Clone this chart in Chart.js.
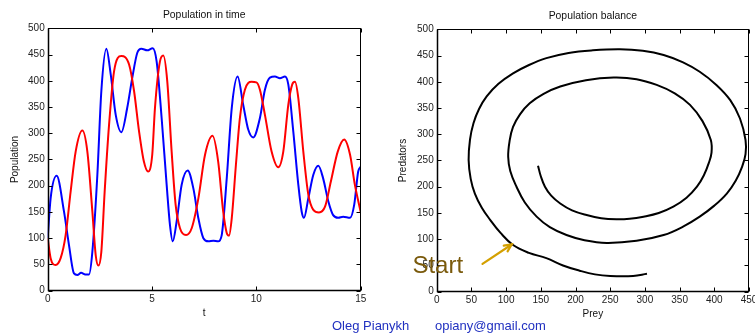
<!DOCTYPE html>
<html>
<head>
<meta charset="utf-8">
<script src="https://cdn.jsdelivr.net/npm/chart.js@4.4.1/dist/chart.umd.min.js"></script>
<style>
  html, body { margin: 0; padding: 0; background: #fff; overflow: hidden; width: 755px; height: 335px; }
  #left { position: absolute; left: 0; top: 0; width: 380px; height: 335px; }
  #right { position: absolute; left: 380px; top: 0; width: 400px; height: 335px; }
  .foot { position: absolute; top: 318px; font: 13px Arial, "Liberation Sans", sans-serif; color: #2030c0; white-space: nowrap; }
</style>
</head>
<body>
<canvas id="left" width="380" height="335"></canvas>
<canvas id="right" width="400" height="335"></canvas>
<div class="foot" style="left:332px">Oleg Pianykh</div>
<div class="foot" style="left:435px">opiany@gmail.com</div>
<script>
// ---- Data ----
const blueT = [0,0.14,0.43,0.78,1.02,1.26,1.42,1.6,1.8,1.98,2.14,2.38,2.57,2.81,3.02,3.26,3.53,3.81,4.05,4.29,4.49,4.77,5.03,5.22,5.46,5.70,5.86,5.99,6.18,6.42,6.71,6.98,7.22,7.46,7.70,7.94,8.17,8.34,8.58,8.82,9.10,9.37,9.61,9.85,10.17,10.41,10.65,10.89,11.13,11.37,11.53,11.77,12.01,12.17,12.28,12.49,12.73,12.97,13.2,13.45,13.68,13.92,14.16,14.49,14.69,14.88,15];
const blueValues = [100,176,219,151,87,33,30,34,31,31,74,221,380,461,412,335,302,348,405,453,461,458,462,437,329,202,125,94,132,202,229,195,138,100,94,95,94,106,214,348,408,354,307,292,329,383,406,408,405,408,393,303,202,151,139,176,221,238,214,170,144,139,141,139,164,227,236];
const redT = [0,0.14,0.38,0.62,0.86,1.10,1.34,1.66,1.90,2.14,2.30,2.43,2.57,2.73,2.94,3.18,3.53,3.9,4.14,4.38,4.61,4.81,5.01,5.14,5.38,5.54,5.73,5.94,6.13,6.34,6.63,6.9,7.22,7.54,7.9,8.17,8.41,8.58,8.69,8.82,9.02,9.21,9.45,9.77,10.0,10.17,10.41,10.73,11.05,11.29,11.53,11.72,11.85,12.01,12.25,12.49,12.73,13.0,13.29,13.57,13.9,14.21,14.49,14.72,15];
const redValues = [100,62,49,62,106,189,265,305,265,151,68,48,74,189,316,418,447,431,380,303,246,227,259,348,437,448,399,265,164,119,106,119,176,259,295,246,151,110,105,138,240,329,383,398,397,383,335,265,235,265,354,393,398,367,265,183,154,149,160,208,265,288,259,202,150];
const preyValues = [303,283,250,228,206,182,158,133,110,92,77,65,55,49,46,48,53,61,72,89,110,133,158,190,225,264,297,327,355,379,403,423,437,445,445,440,431,418,400,379,355,327,288,245,213,187,163,144,127,115,106,103,105,110,120,134,154,178,215,255,288,317,343,365,383,395,396,392,385,375,360,341,320,298,278,259,237,216,195,178,165,156,150,146];
const predatorValues = [34,30,30,33,40,50,64,74,89,112,137,160,187,215,251,290,321,348,372,396,416,432,445,455,460,462,459,451,437,419,394,365,330,289,262,238,212,187,164,143,124,108,97,93,98,108,123,143,170,200,230,257,287,314,338,359,377,391,403,408,405,394,378,356,325,289,265,245,222,200,179,162,150,143,139,138,140,146,155,168,183,200,220,240];
const timeTicks = [0, 5, 10, 15];
const startLabel = { text: 'Start', x: -35, y: 35 };
const startArrow = { fromX: 66, fromY: 53, toX: 108, toY: 90 };

const FONT = 'Arial, "Liberation Sans", sans-serif';

// Box + inward ticks (MATLAB style)
const boxPlugin = {
  id: 'box',
  afterDraw(chart) {
    const { ctx, chartArea: a, scales } = chart;
    ctx.save();
    ctx.strokeStyle = '#000';
    ctx.lineWidth = 1;
    const L = Math.round(a.left) + 0.5, R = Math.round(a.right) - 0.5;
    const T = Math.round(a.top) + 0.5, B = Math.round(a.bottom) - 0.5;
    ctx.strokeRect(L, T, R - L, B - T);
    ctx.lineWidth = 1.5;
    ctx.beginPath(); ctx.moveTo(L, T); ctx.lineTo(L, B); ctx.lineTo(R, B); ctx.stroke();
    ctx.lineWidth = 1;
    const len = 4;
    ctx.beginPath();
    scales.x.ticks.forEach((t, i) => {
      const px = Math.round(scales.x.getPixelForTick(i)) + 0.5;
      ctx.moveTo(px, B); ctx.lineTo(px, B - len);
      ctx.moveTo(px, T); ctx.lineTo(px, T + len);
    });
    scales.y.ticks.forEach((t, i) => {
      const py = Math.round(scales.y.getPixelForTick(i)) + 0.5;
      ctx.moveTo(L, py); ctx.lineTo(L + len, py);
      ctx.moveTo(R, py); ctx.lineTo(R - len, py);
    });
    ctx.stroke();
    ctx.restore();
  }
};

const startPlugin = {
  id: 'startNote',
  afterDraw(chart) {
    const { ctx, scales } = chart;
    const x = scales.x, y = scales.y;
    ctx.save();
    ctx.font = '24px ' + FONT;
    ctx.fillStyle = '#7a5a0c';
    ctx.textBaseline = 'alphabetic';
    ctx.fillText(startLabel.text, x.getPixelForValue(startLabel.x), y.getPixelForValue(startLabel.y));
    const x1 = x.getPixelForValue(startArrow.fromX), y1 = y.getPixelForValue(startArrow.fromY);
    const x2 = x.getPixelForValue(startArrow.toX), y2 = y.getPixelForValue(startArrow.toY);
    ctx.strokeStyle = '#d4a000';
    ctx.lineWidth = 2.2;
    ctx.lineCap = 'round';
    ctx.beginPath(); ctx.moveTo(x1, y1); ctx.lineTo(x2, y2); ctx.stroke();
    const ang = Math.atan2(y2 - y1, x2 - x1), h = 8;
    ctx.beginPath();
    ctx.moveTo(x2 - h * Math.cos(ang - 0.45), y2 - h * Math.sin(ang - 0.45));
    ctx.lineTo(x2, y2);
    ctx.lineTo(x2 - h * Math.cos(ang + 0.45), y2 - h * Math.sin(ang + 0.45));
    ctx.stroke();
    ctx.restore();
  }
};

function pairs(xs, ys) { return xs.map((v, i) => ({ x: v, y: ys[i] })); }

const tickFont = { family: FONT, size: 10 };
const tickColor = '#222';

function baseOptions(cfg) {
  return {
    responsive: false,
    animation: false,
    devicePixelRatio: 1,
    layout: { padding: { left: 0, right: cfg.padRight, top: 0, bottom: 0 } },
    plugins: {
      legend: { display: false },
      tooltip: { enabled: false },
      title: {
        display: true, text: cfg.title, fullSize: false, color: '#111',
        font: { family: FONT, size: 10.4, weight: 'normal', lineHeight: 1.2 },
        padding: { top: cfg.titleTop, bottom: cfg.titleBottom }
      }
    },
    scales: {
      x: {
        type: 'linear', min: cfg.xMin, max: cfg.xMax,
        grid: { display: false, drawTicks: false },
        border: { display: false },
        ticks: Object.assign({ font: tickFont, color: tickColor, padding: 3, maxRotation: 0, autoSkip: false }, cfg.xTicks),
        afterBuildTicks: cfg.xAfterBuild,
        title: { display: true, text: cfg.xTitle, color: '#111', font: { family: FONT, size: 10, lineHeight: 1.2 }, padding: { top: 0, bottom: cfg.xTitleBottom } },
        afterFit: (s) => { s.height = cfg.xHeight; }
      },
      y: {
        type: 'linear', min: 0, max: 500,
        grid: { display: false, drawTicks: false },
        border: { display: false },
        ticks: { font: tickFont, color: tickColor, padding: 3, stepSize: 50 },
        title: { display: true, text: cfg.yTitle, color: '#111', font: { family: FONT, size: 10, lineHeight: 1.2 }, padding: { top: cfg.yTitleTop, bottom: 0 } },
        afterFit: (s) => { s.width = cfg.yWidth; }
      }
    }
  };
}

new Chart(document.getElementById('left'), {
  type: 'scatter',
  data: {
    datasets: [
      { data: pairs(redT, redValues), showLine: true, borderColor: '#ff0000', borderWidth: 2, pointRadius: 0, cubicInterpolationMode: 'monotone' },
      { data: pairs(blueT, blueValues), showLine: true, borderColor: '#0000ff', borderWidth: 2, pointRadius: 0, cubicInterpolationMode: 'monotone' }
    ]
  },
  options: baseOptions({
    title: 'Population in time', padRight: 19.3, titleTop: 8.8, titleBottom: 7.0,
    xMin: 0, xMax: 15, xTitle: 't', xTitleBottom: 16, xHeight: 44.3,
    xTicks: {}, xAfterBuild: (s) => { s.ticks = timeTicks.map(v => ({ value: v })); },
    yTitle: 'Population', yTitleTop: 9, yWidth: 47.7
  }),
  plugins: [boxPlugin]
});

new Chart(document.getElementById('right'), {
  type: 'scatter',
  data: {
    datasets: [
      { data: pairs(preyValues, predatorValues), showLine: true, borderColor: '#000000', borderWidth: 2, pointRadius: 0, tension: 0.4 }
    ]
  },
  options: baseOptions({
    title: 'Population balance', padRight: 31, titleTop: 9.8, titleBottom: 7.0,
    xMin: 0, xMax: 450, xTitle: 'Prey', xTitleBottom: 15, xHeight: 43.3,
    xTicks: { stepSize: 50 }, xAfterBuild: undefined,
    yTitle: 'Predators', yTitleTop: 17.3, yWidth: 56.7
  }),
  plugins: [boxPlugin, startPlugin]
});
</script>
</body>
</html>
